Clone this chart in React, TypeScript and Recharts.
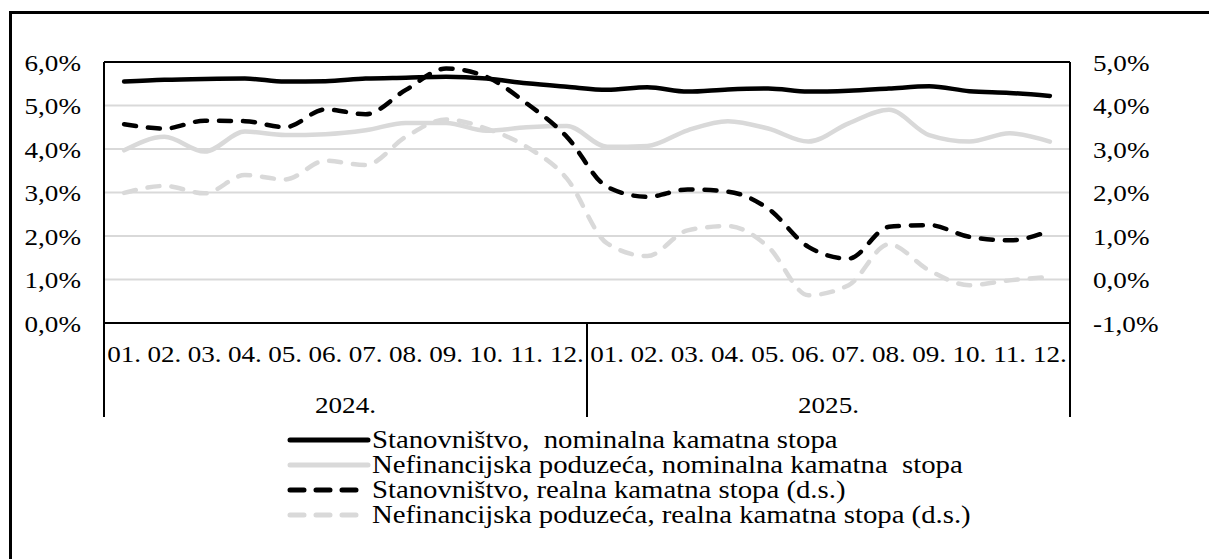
import React from 'react'
import { CartesianGrid, Line, LineChart, ReferenceLine, XAxis, YAxis } from 'recharts'

const months = [
	'01.', '02.', '03.', '04.', '05.', '06.', '07.', '08.', '09.', '10.', '11.', '12.',
	'01.', '02.', '03.', '04.', '05.', '06.', '07.', '08.', '09.', '10.', '11.', '12.',
]
const years = ['2024.', '2025.']

// lijeva os, %
const householdsNominal = [
	5.55, 5.59, 5.61, 5.62, 5.55, 5.56, 5.62, 5.64, 5.66, 5.62, 5.51, 5.43,
	5.36, 5.42, 5.32, 5.37, 5.39, 5.32, 5.34, 5.39, 5.44, 5.33, 5.29, 5.22,
]
const firmsNominal = [
	3.97, 4.28, 3.94, 4.4, 4.32, 4.34, 4.43, 4.6, 4.6, 4.42, 4.5, 4.53,
	4.05, 4.07, 4.43, 4.64, 4.47, 4.17, 4.59, 4.9, 4.32, 4.17, 4.36, 4.17,
]
// desna os, %
const householdsReal = [
	3.57, 3.47, 3.65, 3.64, 3.5, 3.91, 3.8, 4.36, 4.85, 4.66, 4.05, 3.28,
	2.13, 1.9, 2.07, 2.02, 1.63, 0.75, 0.48, 1.21, 1.25, 0.98, 0.9, 1.12,
]
const firmsReal = [
	1.99, 2.15, 1.98, 2.4, 2.3, 2.73, 2.63, 3.28, 3.68, 3.47, 3.05, 2.32,
	0.83, 0.54, 1.13, 1.23, 0.75, -0.36, -0.13, 0.81, 0.21, -0.13, -0.02, 0.06,
]

const leftTicks = [0, 1, 2, 3, 4, 5, 6]
const rightTicks = [-1, 0, 1, 2, 3, 4, 5]

const series = [
	{ key: 'householdsNominal', name: 'Stanovništvo,  nominalna kamatna stopa', color: '#000000', dashed: false, axis: 'left' },
	{ key: 'firmsNominal', name: 'Nefinancijska poduzeća, nominalna kamatna  stopa', color: '#d9d9d9', dashed: false, axis: 'left' },
	{ key: 'householdsReal', name: 'Stanovništvo, realna kamatna stopa (d.s.)', color: '#000000', dashed: true, axis: 'right' },
	{ key: 'firmsReal', name: 'Nefinancijska poduzeća, realna kamatna stopa (d.s.)', color: '#d9d9d9', dashed: true, axis: 'right' },
]

const data = months.map((month, i) => ({
	idx: i,
	month,
	householdsNominal: householdsNominal[i],
	firmsNominal: firmsNominal[i],
	householdsReal: householdsReal[i],
	firmsReal: firmsReal[i],
}))

const W = 1209
const H = 559
const LEFT_W = 104
const RIGHT_W = 139
const BAND = (W - LEFT_W - RIGHT_W) / months.length
const FONT = "'Liberation Serif', 'Times New Roman', serif"
const STRETCH = 1.13
const DASH = '12 12'

const pct = (v: number) => `${v.toFixed(1).replace('.', ',')}%`

const Label = ({ x, y, anchor, children }: any) => (
	<text
		transform={`translate(${x},${y}) scale(${STRETCH},1)`}
		textAnchor={anchor}
		dominantBaseline='central'
		fontSize={24}
		fontFamily={FONT}
		fill='#000'
	>
		{children}
	</text>
)

const LeftTick = ({ x, y, payload }: any) => (
	<Label x={x} y={y + 1} anchor='end'>{pct(payload.value)}</Label>
)

const RightTick = ({ x, y, payload }: any) => (
	<Label x={x} y={y + 1} anchor='start'>{pct(payload.value)}</Label>
)

const MonthTick = (props: any) => {
	const { x, y, payload } = props
	const i = payload.value as number
	const perYear = months.length / years.length
	const startOfYear = i % perYear === 0
	const midYear = i % perYear === perYear / 2 - 1
	return (
		<g>
			<Label x={x} y={y + 31} anchor='middle'>{months[i]}</Label>
			{startOfYear && <line x1={x - BAND / 2} x2={x - BAND / 2} y1={y} y2={y + 94} stroke='#000' strokeWidth={2} />}
			{i === months.length - 1 && <line x1={x + BAND / 2} x2={x + BAND / 2} y1={y} y2={y + 94} stroke='#000' strokeWidth={2} />}
			{midYear && <Label x={x + BAND / 2} y={y + 82} anchor='middle'>{years[Math.floor(i / perYear)]}</Label>}
		</g>
	)
}

const LegendBox = () => (
	<div style={{ position: 'absolute', left: 287, top: 427, fontFamily: FONT, fontSize: 25, color: '#000' }}>
		{series.map(s => (
			<div key={s.key} style={{ display: 'flex', alignItems: 'center', height: 25 }}>
				<svg width={84} height={10} style={{ marginRight: 1 }}>
					<line
						x1={3}
						x2={81}
						y1={5}
						y2={5}
						stroke={s.color}
						strokeWidth={5}
						strokeLinecap='round'
						strokeDasharray={s.dashed ? '14 12' : undefined}
					/>
				</svg>
				<span style={{ whiteSpace: 'pre', lineHeight: '25px', display: 'inline-block', transform: `scaleX(${STRETCH + 0.02})`, transformOrigin: 'left center' }}>
					{s.name}
				</span>
			</div>
		))}
	</div>
)

export default function App() {
	return (
		<div style={{ position: 'absolute', left: 0, top: 0, width: W, height: H, background: '#fff', overflow: 'hidden', fontFamily: FONT }}>
			<div style={{ position: 'absolute', left: 9, top: 11, width: W, height: H, borderLeft: '3px solid #000', borderTop: '3px solid #000' }} />
			<div style={{ position: 'absolute', left: 0, top: 0 }}>
				<LineChart width={W} height={H} data={data} margin={{ top: 62, right: 0, bottom: 136, left: 0 }}>
					<CartesianGrid yAxisId='left' xAxisId='m' vertical={false} stroke='#d9d9d9' strokeWidth={2} />
					<XAxis
						xAxisId='m'
						dataKey='idx'
						type='category'
						height={100}
						padding={{ left: BAND / 2, right: BAND / 2 }}
						tickSize={0}
						tickMargin={0}
						tickLine={false}
						interval={0}
						axisLine={{ stroke: '#000', strokeWidth: 2 }}
						tick={<MonthTick />}
					/>
					<YAxis
						yAxisId='left'
						orientation='left'
						width={LEFT_W}
						domain={[0, 6]}
						ticks={leftTicks}
						tickLine={false}
						tickSize={0}
						tickMargin={23}
						axisLine={{ stroke: '#000', strokeWidth: 2 }}
						tick={<LeftTick />}
					/>
					<YAxis
						yAxisId='right'
						orientation='right'
						width={RIGHT_W}
						domain={[-1, 5]}
						ticks={rightTicks}
						tickLine={false}
						tickSize={0}
						tickMargin={23}
						axisLine={{ stroke: '#000', strokeWidth: 2 }}
						tick={<RightTick />}
					/>
					<ReferenceLine xAxisId='m' yAxisId='left' y={6} stroke='#000' strokeWidth={2} />
					{series.map(s => (
						<Line
							key={s.key}
							xAxisId='m'
							yAxisId={s.axis}
							dataKey={s.key}
							name={s.name}
							type='monotone'
							stroke={s.color}
							strokeWidth={4.5}
							strokeLinecap='round'
							strokeLinejoin='round'
							strokeDasharray={s.dashed ? DASH : undefined}
							dot={false}
							activeDot={false}
							isAnimationActive={false}
						/>
					))}
				</LineChart>
			</div>
			<LegendBox />
		</div>
	)
}
